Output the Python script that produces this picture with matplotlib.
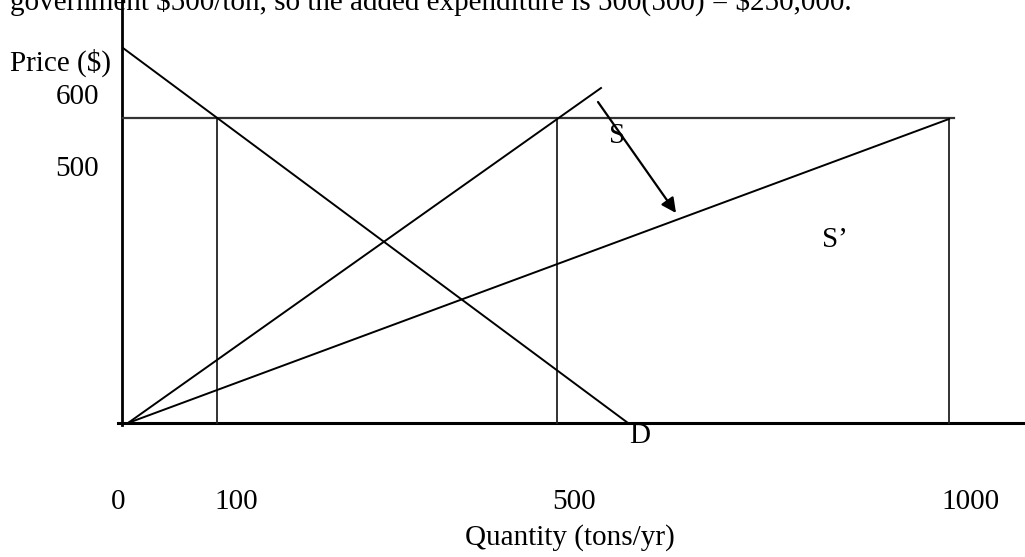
import matplotlib.pyplot as plt

plt.rcParams['font.family'] = ['Liberation Serif', 'DejaVu Serif']

# Diagram units: x to the right of the price axis, y above the quantity axis
# (the sketch is not drawn to scale, so positions are in drawing units)
price_line = {'x': [1, 832], 'y': [305, 305]}
demand = {'x': [1, 506], 'y': [375, 0]}
supply = {'x': [6, 479], 'y': [0, 335]}
supply_new = {'x': [6, 827], 'y': [0, 304]}
drop_x = [95, 435, 827]
drop_top = [305, 305, 304]
shift_arrow = {'start': (476, 321), 'end': (554, 210)}

q_labels = ['0', '100', '500', '1000']
q_label_x = [-4, 114, 452, 848]
p_labels = ['600', '500']
p_label_y = [326, 254]

header = r"government \$500/ton, so the added expenditure is 500(500) = \$250,000."

fig = plt.figure(figsize=(10.25, 5.57), dpi=100)
ax = fig.add_axes([0, 0, 1, 1])
ax.set_xlim(-122, 903)
ax.set_ylim(-134, 423)
ax.axis('off')

# axes of the sketch
ax.plot([0, 0], [-2, 423], color='black', lw=2)
ax.plot([-4, 903], [0, 0], color='black', lw=2.2)

# price line and drop lines
ax.plot(price_line['x'], price_line['y'], color='#333333', lw=1.6)
for x, top in zip(drop_x, drop_top):
    ax.plot([x, x], [0, top], color='#222222', lw=1.3)

ax.plot(demand['x'], demand['y'], color='black', lw=1.4)
ax.plot(supply['x'], supply['y'], color='black', lw=1.4)
ax.plot(supply_new['x'], supply_new['y'], color='black', lw=1.4)

ax.annotate('', xy=shift_arrow['end'], xytext=shift_arrow['start'],
            arrowprops=dict(arrowstyle='-|>', color='black', lw=1.6,
                            mutation_scale=22, shrinkA=0, shrinkB=0))

fs = 21
ax.text(-112, 360, 'Price (\\$)', fontsize=fs, ha='left', va='center')
for lab, y in zip(p_labels, p_label_y):
    ax.text(-23, y, lab, fontsize=fs, ha='right', va='center')
for lab, x in zip(q_labels, q_label_x):
    ax.text(x, -79, lab, fontsize=fs, ha='center', va='center')
ax.text(448, -115, 'Quantity (tons/yr)', fontsize=fs, ha='center', va='center')

ax.text(495, 287, 'S', fontsize=fs, ha='center', va='center')
ax.text(713, 183, 'S\u2019', fontsize=fs, ha='center', va='center')
ax.text(518, -13, 'D', fontsize=fs, ha='center', va='center')

ax.text(-112, 413, header, fontsize=fs, ha='left', va='baseline', clip_on=False)

fig.savefig('out.png', dpi=100)
